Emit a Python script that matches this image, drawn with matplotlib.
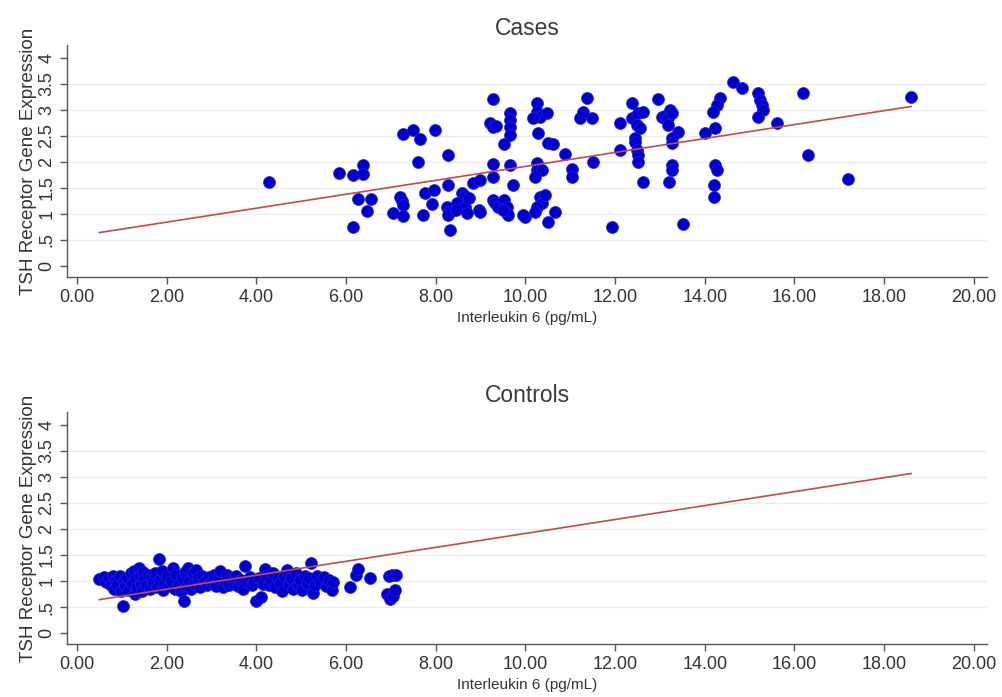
import matplotlib
matplotlib.use("Agg")
import matplotlib.pyplot as plt
import numpy as np

plt.rcParams['font.family'] = ['Liberation Sans', 'DejaVu Sans']

# Cases: Interleukin 6 (pg/mL) vs TSH receptor gene expression
cases_x = [
    4.28, 5.84, 6.15, 6.37, 6.37, 6.26, 6.55, 6.47, 6.15, 7.27, 7.49, 7.65, 7.98, 7.60,
    8.27, 7.20, 7.24, 7.27, 7.05, 7.27, 7.76, 7.96, 7.92, 7.71, 8.27, 8.25, 8.30, 8.27,
    8.32, 8.58, 8.65, 8.47, 8.65, 8.70, 8.74, 8.96, 8.83, 8.99, 8.45, 8.99,
    9.28, 9.20, 9.28, 9.35, 9.65, 9.65, 9.65, 9.65, 9.52, 9.27, 9.65, 9.27, 9.72, 9.27,
    9.32, 9.40, 9.52, 9.58, 9.60, 9.61, 9.50, 9.99, 9.95,
    10.26, 10.26, 10.32, 10.48, 10.17, 10.28, 10.50, 10.61, 10.88, 10.26, 10.26, 10.37,
    10.21, 11.04, 11.04, 11.50, 11.37, 11.21, 11.48, 11.28, 10.32, 10.37, 10.26, 10.21,
    10.43, 10.66, 10.50, 11.93,
    12.37, 12.10, 12.37, 12.50, 12.62, 12.49, 12.55, 12.44, 12.44, 12.49, 12.51, 12.51,
    12.10, 12.62, 12.95, 13.04, 13.11, 13.18, 13.22, 13.27, 13.18, 13.40, 13.27, 13.27,
    13.27, 13.27, 13.20, 13.51,
    14.63, 14.83, 14.34, 14.27, 14.18, 14.23, 14.00, 14.23, 14.27, 14.20, 14.20,
    15.18, 15.23, 15.27, 15.30, 15.18, 15.60, 16.19, 16.30, 17.19, 18.60,
]
cases_y = [
    1.62, 1.79, 1.75, 1.94, 1.77, 1.29, 1.29, 1.06, 0.75, 2.54, 2.62, 2.44, 2.62, 2.00,
    2.13, 1.33, 1.25, 1.17, 1.02, 0.96, 1.40, 1.46, 1.19, 0.98, 1.56, 1.13, 1.04, 0.98,
    0.69, 1.40, 1.35, 1.21, 1.13, 1.02, 1.31, 1.08, 1.60, 1.65, 1.08, 1.04,
    3.21, 2.75, 2.67, 2.69, 2.94, 2.81, 2.67, 2.52, 2.35, 1.96, 1.94, 1.71, 1.56, 1.27,
    1.21, 1.13, 1.27, 1.13, 1.02, 0.98, 1.08, 0.94, 0.98,
    3.13, 2.96, 2.87, 2.94, 2.85, 2.56, 2.37, 2.35, 2.15, 1.98, 1.85, 1.85,
    1.71, 1.87, 1.71, 2.00, 3.23, 2.85, 2.85, 2.96, 1.33, 1.21, 1.13, 1.04,
    1.37, 1.04, 0.85, 0.75,
    3.13, 2.75, 2.85, 2.94, 2.96, 2.71, 2.65, 2.46, 2.38, 2.23, 2.13, 2.00,
    2.23, 1.62, 3.21, 2.87, 2.88, 2.85, 3.00, 2.94, 2.71, 2.58, 2.46, 2.37,
    1.94, 1.85, 1.62, 0.81,
    3.54, 3.42, 3.23, 3.10, 2.96, 2.65, 2.56, 1.94, 1.85, 1.56, 1.33,
    3.33, 3.19, 3.10, 3.00, 2.87, 2.75, 3.33, 2.13, 1.67, 3.25,
]

# Controls
controls_x = [
    0.50, 0.60, 0.65, 0.72, 0.75, 0.80, 0.82, 0.88, 0.90, 0.95, 0.98, 1.02, 1.05, 1.08,
    1.12, 1.15, 1.20, 1.22, 1.28, 1.30, 1.32, 1.35, 1.38, 1.40, 1.42, 1.45, 1.48, 1.50,
    1.55, 1.58, 1.62, 1.65, 1.70, 1.75, 1.78, 1.82, 1.85, 1.90, 1.92, 1.95, 2.00,
    2.05, 2.10, 2.15, 2.18, 2.22, 2.28, 2.32, 2.35, 2.38, 2.40, 2.45, 2.48, 2.50,
    2.55, 2.58, 2.62, 2.65, 2.70, 2.75, 2.80, 2.85, 2.90, 2.95, 3.00,
    3.05, 3.10, 3.15, 3.20, 3.25, 3.30, 3.35, 3.40, 3.45, 3.50,
    3.55, 3.60, 3.65, 3.70, 3.75, 3.80, 3.85, 3.90, 3.95, 4.00,
    4.05, 4.10, 4.15, 4.20, 4.22, 4.28, 4.32, 4.38, 4.42, 4.48,
    4.52, 4.58, 4.62, 4.68, 4.72, 4.78, 4.82, 4.88, 4.92, 4.98,
    5.02, 5.08, 5.12, 5.18, 5.23, 5.27, 5.30, 5.35, 5.42, 5.50, 5.55, 5.62, 5.68, 5.72,
    6.09, 6.22, 6.27, 6.53, 6.91, 6.98, 7.05, 7.09, 6.95, 7.02, 7.12,
]
controls_y = [
    1.04, 1.08, 0.98, 1.06, 0.93, 1.10, 0.85, 1.02, 0.92, 1.10, 0.80, 0.53, 1.00, 0.90,
    1.05, 0.82, 1.15, 0.95, 1.20, 0.75, 1.05, 0.88, 1.25, 1.10, 0.95, 0.80, 1.18, 1.02,
    0.92, 1.12, 0.85, 1.05, 0.98, 1.15, 0.88, 1.43, 1.02, 1.20, 0.82, 0.95, 1.08,
    0.90, 1.00, 1.25, 0.85, 1.12, 0.95, 0.80, 1.05, 0.62, 1.18, 0.90, 1.25, 1.00,
    0.85, 1.15, 0.95, 1.22, 1.05, 0.88, 1.10, 1.00, 0.92, 1.08, 0.98,
    1.12, 0.90, 1.05, 1.20, 0.88, 1.00, 1.12, 0.92, 1.05, 0.96,
    1.10, 0.90, 1.02, 0.85, 1.28, 0.98, 1.08, 0.92, 1.00, 0.61,
    1.05, 0.70, 0.95, 1.24, 1.10, 0.92, 1.02, 1.15, 0.88, 1.05,
    0.96, 0.80, 1.10, 1.22, 0.95, 1.05, 0.85, 1.15, 0.92, 1.02,
    0.82, 1.10, 0.95, 1.05, 1.35, 0.78, 0.92, 1.10, 0.98, 1.08, 0.90, 1.02, 0.82, 0.98,
    0.88, 1.12, 1.24, 1.05, 0.76, 0.65, 0.72, 0.82, 1.10, 1.12, 1.12,
]

# Linear fit shown in both panels
fit_intercept = 0.576
fit_slope = 0.1339

x_ticks = [0, 2, 4, 6, 8, 10, 12, 14, 16, 18, 20]
y_ticks = [0, 0.5, 1, 1.5, 2, 2.5, 3, 3.5, 4]
y_ticklabels = ['0', '.5', '1', '1.5', '2', '2.5', '3', '3.5', '4']

all_x = cases_x + controls_x
fit_x = np.array([min(all_x), max(all_x)])
fit_y = fit_intercept + fit_slope * fit_x

fig = plt.figure(figsize=(10.02, 6.97), dpi=100)
ax1 = fig.add_axes([0.0669, 0.6026, 0.918, 0.333])
ax2 = fig.add_axes([0.0669, 0.0760, 0.918, 0.333])

panels = [(ax1, 'Cases', cases_x, cases_y), (ax2, 'Controls', controls_x, controls_y)]
for ax, title, xs, ys in panels:
    for gy in y_ticks[1:-1]:
        ax.axhline(gy, color='#ececec', lw=1.0, zorder=0)
    ax.scatter(xs, ys, s=74, color='#0000c8', edgecolors='#2020f0', linewidths=0.5, zorder=3)
    ax.plot(fit_x, fit_y, color='#c84848', lw=1.2, zorder=4)
    ax.set_xlim(-0.22, 20.29)
    ax.set_ylim(-0.21, 4.25)
    ax.set_xticks(x_ticks)
    ax.set_xticklabels(['%.2f' % t for t in x_ticks])
    ax.set_yticks(y_ticks)
    ax.set_yticklabels(y_ticklabels, rotation=90, va='center')
    ax.tick_params(axis='both', colors='#555555', labelcolor='#333333', labelsize=13,
                   length=5, width=1)
    for side in ['top', 'right']:
        ax.spines[side].set_visible(False)
    for side in ['left', 'bottom']:
        ax.spines[side].set_color('#555555')
        ax.spines[side].set_linewidth(1.0)
    ax.set_title(title, fontsize=16.5, color='#3a3a3a', pad=7)
    ax.set_xlabel('Interleukin 6 (pg/mL)', fontsize=11, color='#333333', labelpad=4)
    ax.set_ylabel('TSH Receptor Gene Expression', fontsize=13.5, color='#333333', labelpad=1)

fig.savefig('out.png', dpi=100, facecolor='white')
